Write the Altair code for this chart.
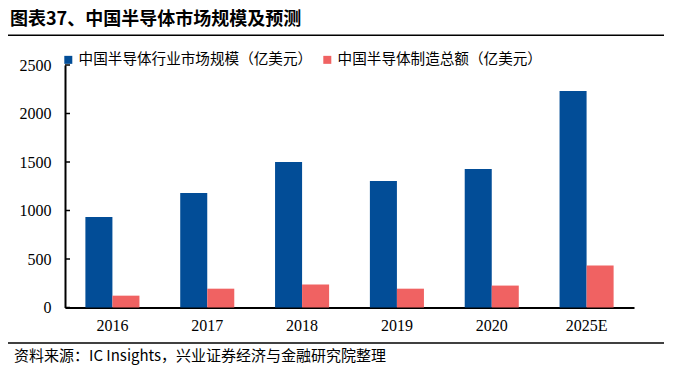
import altair as alt
import pandas as pd

years = ["2016", "2017", "2018", "2019", "2020", "2025E"]
market = [933, 1180, 1500, 1304, 1428, 2232]
manufacturing = [122, 194, 236, 194, 226, 432]
series_names = ["中国半导体行业市场规模（亿美元）", "中国半导体制造总额（亿美元）"]
series_colors = ["#024D97", "#F06262"]
y_ticks = [0, 500, 1000, 1500, 2000, 2500]
title_text = "图表37、中国半导体市场规模及预测"
source_text = "资料来源：IC Insights，兴业证券经济与金融研究院整理"

rows = []
for i, y in enumerate(years):
    rows.append({"year": y, "series": series_names[0], "value": market[i]})
    rows.append({"year": y, "series": series_names[1], "value": manufacturing[i]})
df = pd.DataFrame(rows)

W, H = 569, 242.5
serif = "Liberation Serif"
cjk = "Noto Sans CJK SC"

yscale = alt.Scale(domain=[0, 2500], nice=False)
y_axis = alt.Axis(values=y_ticks, format="d", ticks=False, grid=False, domainColor="#000",
                  domainWidth=2, labelFont=serif, labelFontSize=16,
                  labelColor="#000", labelPadding=14)

bars = alt.Chart(df).mark_bar().encode(
    x=alt.X("year:N", sort=years, title=None,
            scale=alt.Scale(paddingInner=0.43, paddingOuter=0.215),
            axis=alt.Axis(labelAngle=0, ticks=False, domainColor="#000", domainWidth=2,
                          labelFont=serif, labelFontSize=16, labelColor="#000",
                          labelPadding=10)),
    xOffset=alt.XOffset("series:N", sort=series_names,
                        scale=alt.Scale(paddingInner=0, paddingOuter=0)),
    y=alt.Y("value:Q", scale=yscale, title=None, axis=y_axis),
    color=alt.Color("series:N", sort=series_names,
                    scale=alt.Scale(domain=series_names, range=series_colors),
                    legend=alt.Legend(title=None, orient="none", direction="horizontal",
                                      legendX=-4, legendY=-12.5, symbolType="square",
                                      symbolSize=64, symbolStrokeWidth=0,
                                      symbolOpacity=1, labelOffset=3, columnPadding=7,
                                      labelFont=cjk, labelFontSize=14.6, labelColor="#000",
                                      labelLimit=0, padding=0)),
)

tick_df = pd.DataFrame({"t": y_ticks})
ticks = alt.Chart(tick_df).mark_rule(color="#000", strokeWidth=1.5).encode(
    y=alt.Y("t:Q", scale=yscale, title=None, axis=y_axis),
    x=alt.value(0), x2=alt.value(5),
)

one = pd.DataFrame({"a": [0]})
title = alt.Chart(one).mark_text(text=title_text, font=cjk, fontSize=18, fontWeight="bold",
                                 align="left", baseline="middle", color="#000").encode(
    x=alt.value(-55), y=alt.value(-45))
top_line = alt.Chart(one).mark_rule(color="#000", strokeWidth=1.5).encode(
    x=alt.value(-60), x2=alt.value(603), y=alt.value(-29.7))
bottom_line = alt.Chart(one).mark_rule(color="#000", strokeWidth=1.5).encode(
    x=alt.value(-60), x2=alt.value(603), y=alt.value(278))
source = alt.Chart(one).mark_text(text=source_text, font=cjk, fontSize=15,
                                  align="left", baseline="middle", color="#000").encode(
    x=alt.value(-51), y=alt.value(291))

chart = alt.layer(bars, ticks, title, top_line, bottom_line, source).properties(
    width=W, height=H,
    autosize=alt.AutoSizeParams(type="none"),
    padding={"left": 57, "top": 57, "right": 30, "bottom": 58},
).configure(background="white").configure_view(stroke=None).configure_axis(
    labelFont=serif, labelFontSize=16, labelColor="#000")

chart.save("out.html", embed_options={"renderer": "svg", "actions": False})
